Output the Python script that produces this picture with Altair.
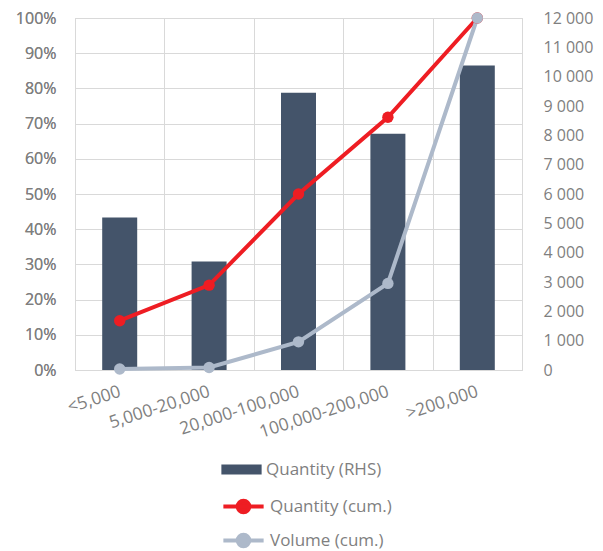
import altair as alt
import pandas as pd

categories = ["<5,000", "5,000-20,000", "20,000-100,000", "100,000-200,000", ">200,000"]
quantity = [5200, 3700, 9450, 8050, 10380]
qty_cum = [0.140, 0.241, 0.500, 0.718, 1.000]
vol_cum = [0.003, 0.007, 0.080, 0.246, 1.000]

bar_name = "Quantity (RHS)"
line_names = ["Quantity (cum.)", "Volume (cum.)"]

bars_df = pd.DataFrame({"cat": categories, "value": quantity, "series": bar_name})
lines_df = pd.DataFrame({
    "cat": categories * 2,
    "value": qty_cum + vol_cum,
    "series": [line_names[0]] * 5 + [line_names[1]] * 5,
})

FONT = "Open Sans"
GREY = "#7f7f7f"
GRID = "#d9d9d9"
BAR = "#44546a"
RED = "#ee1d23"
LGREY = "#adb9ca"

xenc = alt.X(
    "cat:N", sort=categories, title=None,
    scale=alt.Scale(paddingInner=0, paddingOuter=0),
    axis=alt.Axis(labelAngle=342, labelAlign="right", labelBaseline="middle",
                  labelPadding=21, ticks=False, domain=False, grid=True,
                  tickBand="extent", gridColor=GRID, labelColor=GREY,
                  labelFontSize=17.5, labelFont=FONT),
)

bars = alt.Chart(bars_df).mark_bar(size=35).encode(
    x=xenc,
    y=alt.Y("value:Q", title=None,
            scale=alt.Scale(domain=[0, 12000], nice=False),
            axis=alt.Axis(orient="right", values=list(range(0, 12001, 1000)),
                          labelExpr="replace(format(datum.value, ','), ',', ' ')",
                          ticks=False, domain=False, grid=False,
                          labelPadding=21, labelAlign="left",
                          labelColor=GREY, labelFontSize=16, labelFont=FONT)),
    fill=alt.Fill("series:N", scale=alt.Scale(domain=[bar_name], range=[BAR]),
                  legend=alt.Legend(title=None, orient="none", legendX=149, legendY=434,
                                    symbolType="M-1.15,-0.28H1.15V0.28H-1.15Z",
                                    symbolSize=1225, symbolStrokeWidth=0,
                                    labelFontSize=17, labelFont=FONT, labelColor=GREY,
                                    labelOffset=7)),
)

yline = alt.Y("value:Q", title=None,
              scale=alt.Scale(domain=[0, 1], nice=False),
              axis=alt.Axis(orient="left", format=".0%", values=[i / 10 for i in range(11)],
                            ticks=False, domain=False, grid=True, gridColor=GRID,
                            labelPadding=19, labelColor=GREY, labelFontSize=16,
                            labelFont=FONT))

color = alt.Color("series:N", scale=alt.Scale(domain=line_names, range=[RED, LGREY]),
                  legend=alt.Legend(title=None, orient="none", legendX=149, legendY=469,
                                    symbolType="M-1.15,0H1.15M0.33,0A0.33,0.33 0 1,1 -0.33,0A0.33,0.33 0 1,1 0.33,0",
                                    symbolSize=1225, symbolStrokeWidth=4,
                                    labelFontSize=17, labelFont=FONT, labelColor=GREY,
                                    labelOffset=7))

lines = alt.Chart(lines_df).mark_line(strokeWidth=4).encode(
    x=xenc, y=yline, color=color, detail="series:N")
points = alt.Chart(lines_df).mark_point(filled=True, size=130, opacity=1).encode(
    x=xenc, y=yline, color=color)

chart = alt.layer(bars, lines, points).resolve_scale(y="independent").properties(
    width=447, height=352,
    autosize=alt.AutoSizeParams(type="none"),
    padding={"left": 67, "top": 10, "right": 73, "bottom": 181},
).configure_view(stroke=GRID).configure_legend(rowPadding=0)

chart.save("out.html", embed_options={"renderer": "svg", "actions": False})
